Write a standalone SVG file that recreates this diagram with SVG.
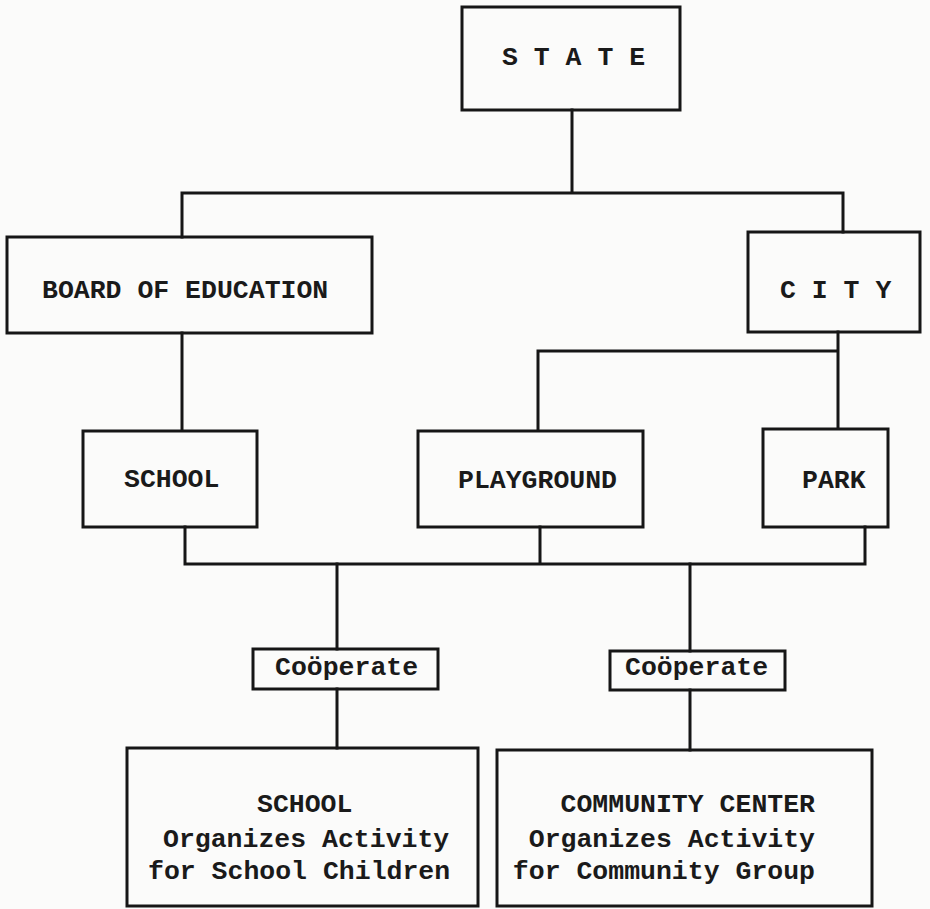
<svg xmlns="http://www.w3.org/2000/svg" width="930" height="909" viewBox="0 0 930 909">
<style>
.box{fill:none;stroke:#161616;stroke-width:3}
.ln{fill:none;stroke:#161616;stroke-width:3;stroke-linecap:square}
.t{font-family:"Liberation Mono","DejaVu Sans Mono",monospace;font-size:26.5px;fill:#1a1a1a;font-weight:bold}
</style>
<rect x="0" y="0" width="930" height="909" fill="#fbfbfa"/>
<g id="connectors">
<path class="ln" d="M572 110 V193 M182 237 V193 H843 V232"/>
<path class="ln" d="M182 333 V430"/>
<path class="ln" d="M838 332 V428 M838 351 H538 V430"/>
<path class="ln" d="M185 527 V564 H865 V527 M540 527 V564"/>
<path class="ln" d="M337 564 V649 M337 689 V748"/>
<path class="ln" d="M690 564 V651 M690 690 V750"/>
</g>
<g id="state"><rect class="box" x="462" y="7" width="218" height="103"/><text class="t" x="502" y="65">S T A T E</text></g>
<g id="board"><rect class="box" x="7" y="237" width="365" height="96"/><text class="t" x="42" y="298">BOARD OF EDUCATION</text></g>
<g id="city"><rect class="box" x="748" y="232" width="172" height="100"/><text class="t" x="780" y="298">C I T Y</text></g>
<g id="school"><rect class="box" x="83" y="431" width="174" height="96"/><text class="t" x="124" y="487">SCHOOL</text></g>
<g id="playground"><rect class="box" x="418" y="431" width="225" height="96"/><text class="t" x="458" y="488">PLAYGROUND</text></g>
<g id="park"><rect class="box" x="763" y="429" width="125" height="98"/><text class="t" x="802" y="488">PARK</text></g>
<g id="coop1"><rect class="box" x="253" y="649" width="185" height="40"/><text class="t" x="275" y="675">Coöperate</text></g>
<g id="coop2"><rect class="box" x="610" y="651" width="175" height="39"/><text class="t" x="625" y="675">Coöperate</text></g>
<g id="school-activity"><rect class="box" x="127" y="748" width="351" height="158"/>
<text class="t" x="257" y="812">SCHOOL</text>
<text class="t" x="163" y="847">Organizes Activity</text>
<text class="t" x="148" y="879">for School Children</text></g>
<g id="community-center"><rect class="box" x="497" y="750" width="375" height="156"/>
<text class="t" x="815" y="812" text-anchor="end">COMMUNITY CENTER</text>
<text class="t" x="815" y="847" text-anchor="end">Organizes Activity</text>
<text class="t" x="815" y="879" text-anchor="end">for Community Group</text></g>
</svg>
